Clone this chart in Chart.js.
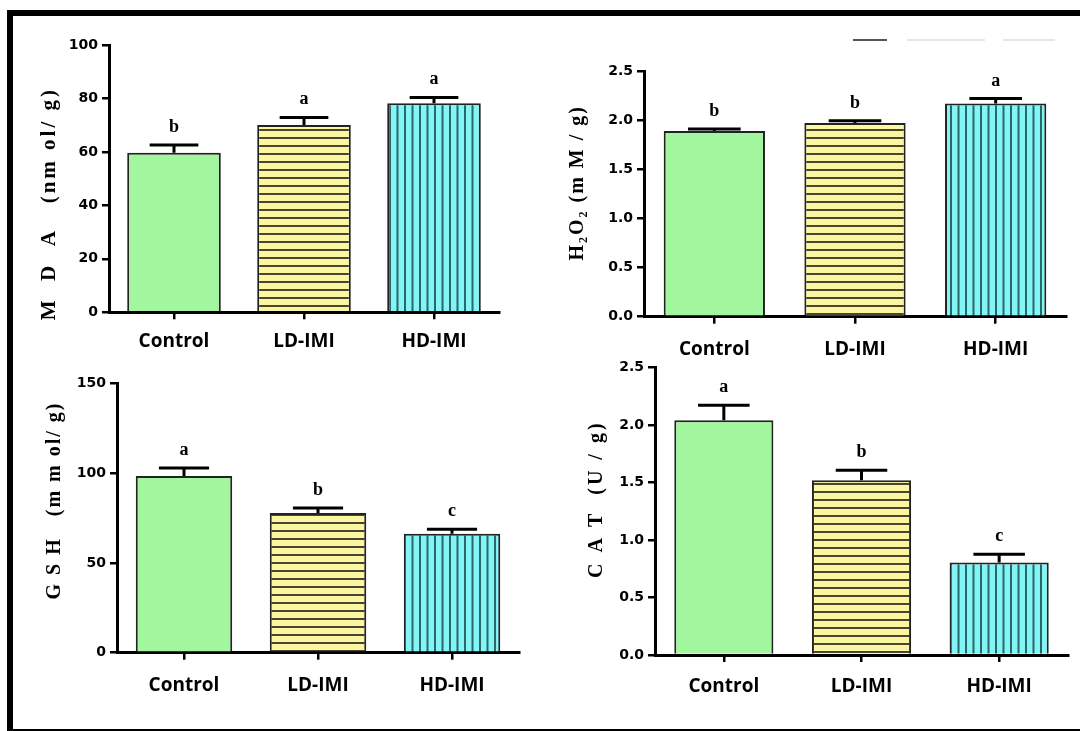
<!DOCTYPE html>
<html>
<head>
<meta charset="utf-8">
<script src="https://cdn.jsdelivr.net/npm/chart.js@4.4.1/dist/chart.umd.min.js"></script>
<style>
  body { margin: 0; background: #fff; }
  #page { position: relative; width: 1080px; height: 731px; overflow: hidden; }
  #frame { position: absolute; left: 7px; top: 10px; width: 1073px; height: 721px; box-sizing: border-box;
           border-top: 6px solid #000; border-left: 6px solid #000; border-bottom: 2px solid #000; }
  canvas { position: absolute; }
  .ghost { position: absolute; top: 39px; height: 2px; }
</style>
</head>
<body>
<div id="page">
  <div id="frame"></div>
  <div class="ghost" style="left:853px;width:34px;background:#555"></div>
  <div class="ghost" style="left:907px;width:78px;background:#e6e6e6"></div>
  <div class="ghost" style="left:1003px;width:52px;background:#e6e6e6"></div>
  <canvas id="mda"></canvas>
  <canvas id="h2o2"></canvas>
  <canvas id="gsh"></canvas>
  <canvas id="cat"></canvas>
</div>
<script>
"use strict";

// data
const groups = ["Control", "LD-IMI", "HD-IMI"];

const mdaMean = [59.7, 70.1, 78.2];
const mdaErr  = [2.9, 2.8, 2.2];
const mdaSig  = ["b", "a", "a"];
const mdaTicks = [0, 20, 40, 60, 80, 100];

const h2o2Mean = [1.89, 1.97, 2.17];
const h2o2Err  = [0.02, 0.025, 0.05];
const h2o2Sig  = ["b", "b", "a"];
const h2o2Ticks = [0, 0.5, 1.0, 1.5, 2.0, 2.5];

const gshMean = [98.4, 77.8, 66.3];
const gshErr  = [4.4, 2.8, 2.4];
const gshSig  = ["a", "b", "c"];
const gshTicks = [0, 50, 100, 150];

const catMean = [2.04, 1.52, 0.805];
const catErr  = [0.13, 0.087, 0.07];
const catSig  = ["a", "b", "c"];
const catTicks = [0, 0.5, 1.0, 1.5, 2.0, 2.5];

// hatched fills like the GraphPad bars
function hatch(bg, line, vertical) {
  const c = document.createElement("canvas");
  c.width = vertical ? 15 : 8;
  c.height = vertical ? 8 : 8;
  const g = c.getContext("2d");
  g.fillStyle = bg;
  g.fillRect(0, 0, c.width, c.height);
  g.fillStyle = line;
  if (vertical) { g.fillRect(0, 0, 2, 8); g.fillRect(7.5, 0, 2, 8); }
  else g.fillRect(0, 0, 8, 2);
  return g.createPattern(c, "repeat");
}

const fills = [
  "#a2f79e",
  hatch("#fbf6a0", "#4a4532", false),
  hatch("#82f6f6", "#2b6767", true)
];

const errorBars = {
  id: "errorBars",
  afterDatasetsDraw(chart) {
    const ctx = chart.ctx;
    const y = chart.scales.y;
    const ds = chart.data.datasets[0];
    ctx.save();
    ctx.strokeStyle = "#000";
    ctx.fillStyle = "#000";
    ctx.lineWidth = 3;
    ctx.font = 'bold 18px "Liberation Serif"';
    ctx.textAlign = "center";
    ctx.textBaseline = "alphabetic";
    chart.getDatasetMeta(0).data.forEach((bar, i) => {
      const top = y.getPixelForValue(ds.data[i] + ds.err[i]);
      const half = bar.width * 0.26;
      ctx.beginPath();
      ctx.moveTo(bar.x, bar.y);
      ctx.lineTo(bar.x, top);
      ctx.moveTo(bar.x - half, top);
      ctx.lineTo(bar.x + half, top);
      ctx.stroke();
      ctx.fillText(ds.sig[i], bar.x, top - 13);
    });
    ctx.restore();
  }
};

const sideTitle = {
  id: "sideTitle",
  afterDraw(chart, args, o) {
    const {ctx, chartArea} = chart;
    ctx.save();
    ctx.font = o.fontSpec;
    ctx.letterSpacing = o.spacing + "px";
    ctx.fillStyle = "#000";
    ctx.textAlign = "center";
    ctx.textBaseline = "middle";
    ctx.translate(o.x, (chartArea.top + chartArea.bottom) / 2 + o.dy);
    ctx.rotate(-Math.PI / 2);
    ctx.fillText(o.text, 0, 0);
    ctx.restore();
  }
};

function makeChart(id, box, mean, err, sig, ticks, decimals, title) {
  const cv = document.getElementById(id);
  cv.width = box.width;
  cv.height = box.height;
  cv.style.left = box.left + "px";
  cv.style.top = box.top + "px";

  return new Chart(cv.getContext("2d"), {
    type: "bar",
    data: {
      labels: groups,
      datasets: [{
        data: mean,
        err: err,
        sig: sig,
        backgroundColor: fills,
        borderColor: "#222",
        borderWidth: 2,
        barPercentage: 0.8,
        categoryPercentage: 0.9
      }]
    },
    options: {
      responsive: false,
      animation: false,
      layout: { autoPadding: false, padding: { top: box.padTop, right: box.padRight, left: 0, bottom: 0 } },
      plugins: {
        legend: { display: false },
        tooltip: { enabled: false },
        sideTitle: title
      },
      scales: {
        x: {
          z: 1,
          grid: { offset: false, drawOnChartArea: false, tickLength: 7, lineWidth: 2.5, color: "#000" },
          border: { color: "#000", width: 3 },
          ticks: { color: "#000", padding: box.xPad, font: { family: "Open Sans", weight: "bold", size: 19 } },
          afterFit: s => { s.height = box.xH; }
        },
        y: {
          z: 1,
          min: ticks[0],
          max: ticks[ticks.length - 1],
          grid: { drawOnChartArea: false, tickLength: 7, lineWidth: 2.5, color: "#000" },
          border: { color: "#000", width: 3 },
          ticks: {
            stepSize: ticks[1] - ticks[0],
            color: "#000",
            padding: 4,
            font: { family: "DejaVu Sans", weight: "bold", size: 14 },
            callback: v => Number(v).toFixed(decimals)
          },
          afterFit: s => { s.width = box.yW; }
        }
      }
    },
    plugins: [errorBars, sideTitle]
  });
}

makeChart("mda",
  { left: 14, top: 17, width: 526, height: 343, yW: 95, xH: 47.7, padTop: 28, padRight: 41, xPad: 11 },
  mdaMean, mdaErr, mdaSig, mdaTicks, 0,
  { text: "M  D  A   (nm ol/ g)", fontSpec: 'bold 21px "Liberation Serif"', spacing: 3, x: 36, dy: 25 });

makeChart("h2o2",
  { left: 545, top: 17, width: 535, height: 345, yW: 99, xH: 45.3, padTop: 54, padRight: 14, xPad: 14 },
  h2o2Mean, h2o2Err, h2o2Sig, h2o2Ticks, 1,
  { text: "H\u2082O\u2082 (m M / g)", fontSpec: 'bold 20px "Liberation Serif"', spacing: 2, x: 33, dy: -11 });

makeChart("gsh",
  { left: 14, top: 362, width: 526, height: 369, yW: 103, xH: 78.3, padTop: 21.3, padRight: 21, xPad: 14 },
  gshMean, gshErr, gshSig, gshTicks, 0,
  { text: "G S H   (m m ol/ g)", fontSpec: 'bold 20px "Liberation Serif"', spacing: 2, x: 41, dy: -17.5 });

makeChart("cat",
  { left: 545, top: 355, width: 535, height: 376, yW: 110, xH: 76, padTop: 12.3, padRight: 12, xPad: 13 },
  catMean, catErr, catSig, catTicks, 1,
  { text: "C A T  (U / g)", fontSpec: 'bold 20px "Liberation Serif"', spacing: 3, x: 52, dy: -12 });
</script>
</body>
</html>
